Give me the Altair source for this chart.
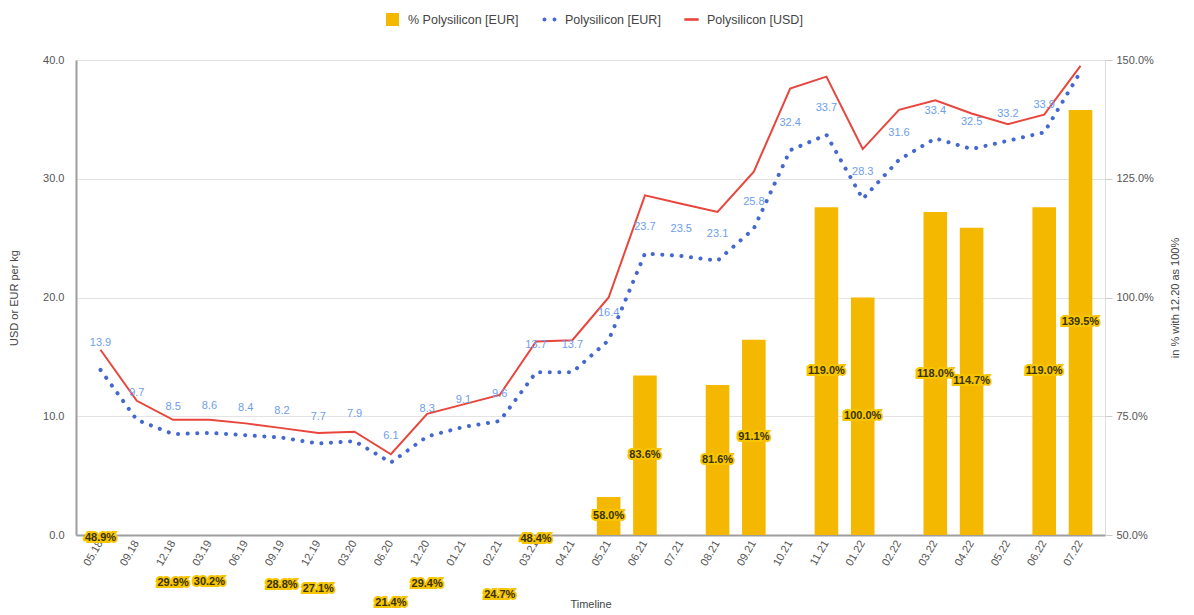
import altair as alt
import pandas as pd

categories = ["05.18", "09.18", "12.18", "03.19", "06.19", "09.19", "12.19", "03.20",
              "06.20", "12.20", "01.21", "02.21", "03.21", "04.21", "05.21", "06.21",
              "07.21", "08.21", "09.21", "10.21", "11.21", "01.22", "02.22", "03.22",
              "04.22", "05.22", "06.22", "07.22"]
eur = [13.9, 9.7, 8.5, 8.6, 8.4, 8.2, 7.7, 7.9, 6.1, 8.3, 9.1, 9.6, 13.7, 13.7,
       16.4, 23.7, 23.5, 23.1, 25.8, 32.4, 33.7, 28.3, 31.6, 33.4, 32.5, 33.2, 33.9, 39.0]
usd = [15.6, 11.3, 9.7, 9.7, 9.4, 9.0, 8.6, 8.7, 6.8, 10.2, 11.0, 11.8, 16.3, 16.4,
       20.0, 28.6, 27.9, 27.2, 30.6, 37.6, 38.6, 32.5, 35.8, 36.6, 35.5, 34.6, 35.4, 39.5]
pct = [48.9, None, 29.9, 30.2, None, 28.8, 27.1, None, 21.4, 29.4, None, 24.7, 48.4, None,
       58.0, 83.6, None, 81.6, 91.1, None, 119.0, 100.0, None, 118.0, 114.7, None, 119.0, 139.5]
eur_label_shown = [True] * 27 + [False]
series_names = ["% Polysilicon [EUR]", "Polysilicon [EUR]", "Polysilicon [USD]"]

YELLOW = "#f5b800"
BLUE = "#4468d0"
RED = "#e8453c"
LBLUE = "#6d9eeb"
FONT = "Liberation Sans"

df = pd.DataFrame({"t": categories, "eur": eur, "usd": usd, "pct": pct,
                   "show": eur_label_shown})

x = alt.X("t:N", sort=categories,
          scale=alt.Scale(paddingInner=0.35, paddingOuter=0.35),
          axis=alt.Axis(title="Timeline", labelAngle=300, labelAlign="right",
                        labelBaseline="middle", ticks=False, labelPadding=6,
                        domainColor="#9e9e9e", domainWidth=2, labelColor="#555",
                        labelFontSize=11, titleFontSize=11, titleColor="#444",
                        titleFontWeight="normal", titlePadding=31, labelFont=FONT,
                        titleFont=FONT))

yr_scale = alt.Scale(domain=[50, 150], nice=False, zero=False)
yl_scale = alt.Scale(domain=[0, 40], nice=False, zero=True)

yr_axis = alt.Axis(orient="right", title="in % with 12.20 as 100%",
                   values=[50, 75, 100, 125, 150],
                   labelExpr="format(datum.value, '.1f') + '%'",
                   grid=False, domain=False, ticks=True, tickColor="#cccccc",
                   tickSize=7, labelPadding=4, labelColor="#555",
                   labelFontSize=11, titleFontSize=11, titleColor="#444",
                   titleFontWeight="normal", titlePadding=27, titleAngle=270,
                   labelFont=FONT, titleFont=FONT)

base = alt.Chart(df)

bars = base.transform_filter("isValid(datum.pct)").mark_bar(color=YELLOW, clip=True).encode(
    x=x,
    y=alt.Y("pct:Q", scale=yr_scale, axis=yr_axis),
    y2=alt.datum(50),
)

bar_text_base = base.transform_filter("isValid(datum.pct)").transform_calculate(
    mid="(datum.pct + 50) / 2",
    lbl="format(datum.pct, '.1f') + '%'",
)
bar_halo = bar_text_base.mark_text(font=FONT, fontSize=11, fontWeight="bold",
                                   stroke="#f7c600", strokeWidth=4, color="#f7c600").encode(
    x=x, y=alt.Y("mid:Q", scale=yr_scale, axis=yr_axis), text="lbl:N")
bar_text = bar_text_base.mark_text(font=FONT, fontSize=11, fontWeight="bold",
                                   color="#3a3200").encode(
    x=x, y=alt.Y("mid:Q", scale=yr_scale, axis=yr_axis), text="lbl:N")

right_group = alt.layer(bars, bar_halo, bar_text)

yl_axis = alt.Axis(orient="left", title="USD or EUR per kg", format=".1f",
                   values=[0, 10, 20, 30, 40],
                   grid=True, gridColor="#e3e3e3", domainColor="#9e9e9e", domainWidth=2,
                   ticks=False, labelPadding=12, labelColor="#555", labelFontSize=11,
                   titleFontSize=11, titleColor="#444", titleFontWeight="normal",
                   titlePadding=23, labelFont=FONT, titleFont=FONT)

eur_line = base.mark_line(color=BLUE, strokeWidth=4, strokeDash=[0.1, 9.5],
                          strokeCap="round").encode(
    x=x, y=alt.Y("eur:Q", scale=yl_scale, axis=yl_axis))
usd_line = base.mark_line(color=RED, strokeWidth=2).encode(
    x=x, y=alt.Y("usd:Q", scale=yl_scale, axis=yl_axis))
eur_labels = base.transform_filter("datum.show").mark_text(
    font=FONT, fontSize=11, color=LBLUE, dy=-27).encode(
    x=x, y=alt.Y("eur:Q", scale=yl_scale, axis=yl_axis),
    text=alt.Text("eur:Q", format=".1f"))

left_group = alt.layer(eur_line, usd_line, eur_labels)

legend_df = pd.DataFrame({"series": series_names})
two_dots = ("M-1.07,0a0.3,0.3 0 1,0 0.6,0a0.3,0.3 0 1,0 -0.6,0Z"
            "M0.47,0a0.3,0.3 0 1,0 0.6,0a0.3,0.3 0 1,0 -0.6,0Z")
red_bar = "M-1.1,-0.2H1.1V0.2H-1.1Z"
leg_props = dict(orient="none", direction="horizontal", title=None,
                 legendX=310, legendY=-47, labelFont=FONT, labelFontSize=12.5,
                 labelColor="#444", columnPadding=23, symbolSize=169, labelOffset=9,
                 symbolStrokeWidth=0)
legend_layer = alt.Chart(legend_df).transform_filter("false").mark_point(
    filled=True, opacity=1).encode(
    color=alt.Color("series:N", scale=alt.Scale(domain=series_names,
                                                range=[YELLOW, BLUE, RED]),
                    legend=alt.Legend(**leg_props)),
    shape=alt.Shape("series:N", scale=alt.Scale(domain=series_names,
                                                range=["square", two_dots, red_bar]),
                    legend=alt.Legend(**leg_props)),
)

chart = alt.layer(left_group, right_group, legend_layer).resolve_scale(
    y="independent"
).properties(width=1029, height=475, padding={"left": 0, "right": 0, "top": 5, "bottom": 0}
).configure_view(stroke=None).configure(font=FONT)

chart.save("out.html", embed_options={"renderer": "svg", "actions": False})
